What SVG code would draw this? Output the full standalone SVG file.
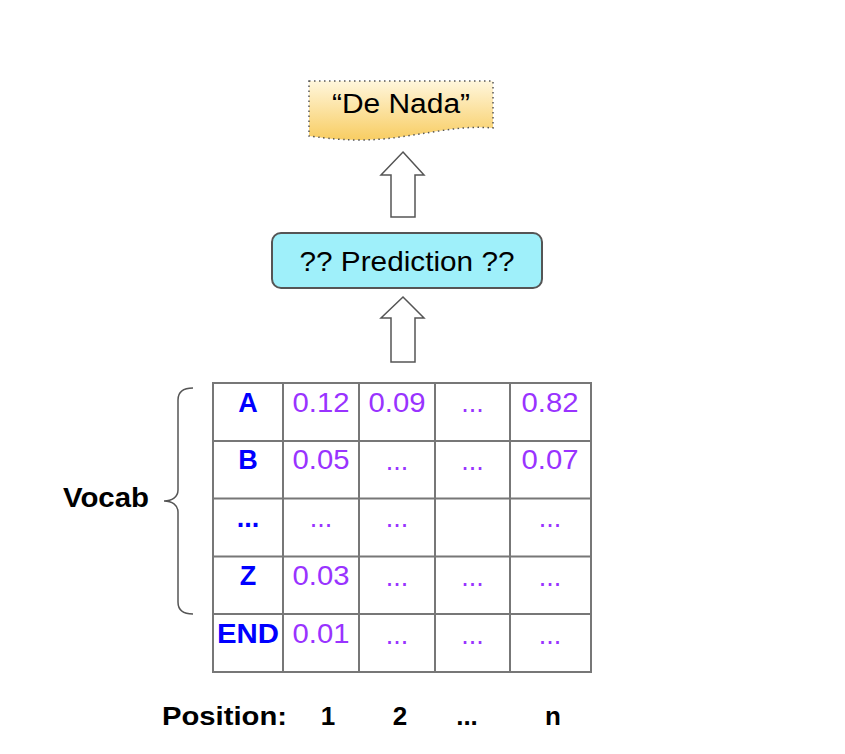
<svg xmlns="http://www.w3.org/2000/svg" width="845" height="754" viewBox="0 0 845 754">
<defs>
<linearGradient id="doc" x1="0" y1="0" x2="0" y2="1">
<stop offset="0" stop-color="#fff6dc"/>
<stop offset="1" stop-color="#f8cd62"/>
</linearGradient>
<style>
.lbl{font-family:"Liberation Sans",Arial,sans-serif;fill:#000}
.voc{font-family:"Liberation Sans",Arial,sans-serif;font-weight:bold;fill:#0000ff;font-size:27px;text-anchor:middle}
.val{font-family:"Liberation Sans",Arial,sans-serif;fill:#9933ff;font-size:27px;text-anchor:middle}
.grid{stroke:#777;stroke-width:2;fill:none}
.arrow{fill:#fff;stroke:#555;stroke-width:1.5}
</style>
</defs>
<rect width="845" height="754" fill="#fff"/>

<g id="output">
<path d="M309,81 H493 V128 C450,124 410,140 360,140 C335,140 318,137 309,136 Z" fill="url(#doc)" stroke="#555" stroke-width="1.5" stroke-dasharray="1.5,3.5"/>
<text class="lbl" x="401" y="113" font-size="27" text-anchor="middle" textLength="138" lengthAdjust="spacingAndGlyphs">“De Nada”</text>
</g>

<g id="prediction">
<rect x="272" y="233" width="270" height="55" rx="9" fill="#9ff0fa" stroke="#555" stroke-width="2"/>
<text class="lbl" x="407" y="271" font-size="28" text-anchor="middle" textLength="215" lengthAdjust="spacingAndGlyphs">?? Prediction ??</text>
</g>

<g id="connectors">
<polygon class="arrow" points="403,152 424,175 415,175 415,217 391,217 391,175 381,175"/>
<polygon class="arrow" points="403,297 424,318 415,318 415,362 391,362 391,318 381,318"/>
</g>

<g id="vocab">
<path d="M193,388 C183,388 178,392 178,400 V490 C178,497 172,501 164,501 C172,501 178,505 178,512 V602 C178,610 183,614 193,614" fill="none" stroke="#555" stroke-width="1.5"/>
<text class="lbl" x="63" y="507" font-size="27" font-weight="bold" textLength="86" lengthAdjust="spacingAndGlyphs">Vocab</text>
</g>

<g id="table">
<rect class="grid" x="213" y="383" width="378" height="289"/>
<path class="grid" d="M283,383 V672 M359,383 V672 M435,383 V672 M510,383 V672 M213,441 H591 M213,498.5 H591 M213,556.5 H591 M213,614 H591"/>
<text class="voc" x="248" y="412">A</text>
<text class="voc" x="248" y="469">B</text>
<text class="voc" x="248" y="527">...</text>
<text class="voc" x="248" y="585">Z</text>
<text class="voc" x="248" y="643" textLength="62" lengthAdjust="spacingAndGlyphs">END</text>

<text class="val" x="321" y="412" textLength="57" lengthAdjust="spacingAndGlyphs">0.12</text>
<text class="val" x="397" y="412" textLength="57" lengthAdjust="spacingAndGlyphs">0.09</text>
<text class="val" x="472.5" y="412" font-size="20">...</text>
<text class="val" x="550" y="412" textLength="57" lengthAdjust="spacingAndGlyphs">0.82</text>

<text class="val" x="321" y="469" textLength="57" lengthAdjust="spacingAndGlyphs">0.05</text>
<text class="val" x="397" y="470" font-size="20">...</text>
<text class="val" x="472.5" y="470" font-size="20">...</text>
<text class="val" x="550" y="469" textLength="57" lengthAdjust="spacingAndGlyphs">0.07</text>

<text class="val" x="321" y="527" font-size="20">...</text>
<text class="val" x="397" y="527" font-size="20">...</text>
<text class="val" x="550" y="527" font-size="20">...</text>

<text class="val" x="321" y="585" textLength="57" lengthAdjust="spacingAndGlyphs">0.03</text>
<text class="val" x="397" y="586" font-size="20">...</text>
<text class="val" x="472.5" y="586" font-size="20">...</text>
<text class="val" x="550" y="586" font-size="20">...</text>

<text class="val" x="321" y="643" textLength="57" lengthAdjust="spacingAndGlyphs">0.01</text>
<text class="val" x="397" y="644" font-size="20">...</text>
<text class="val" x="472.5" y="644" font-size="20">...</text>
<text class="val" x="550" y="644" font-size="20">...</text>
</g>

<g id="positions" class="lbl" font-size="26" font-weight="bold">
<text x="162" y="725" textLength="125" lengthAdjust="spacingAndGlyphs">Position:</text>
<text x="328" y="725" text-anchor="middle">1</text>
<text x="400" y="725" text-anchor="middle">2</text>
<text x="467" y="725" text-anchor="middle">...</text>
<text x="553" y="725" text-anchor="middle">n</text>
</g>
</svg>
